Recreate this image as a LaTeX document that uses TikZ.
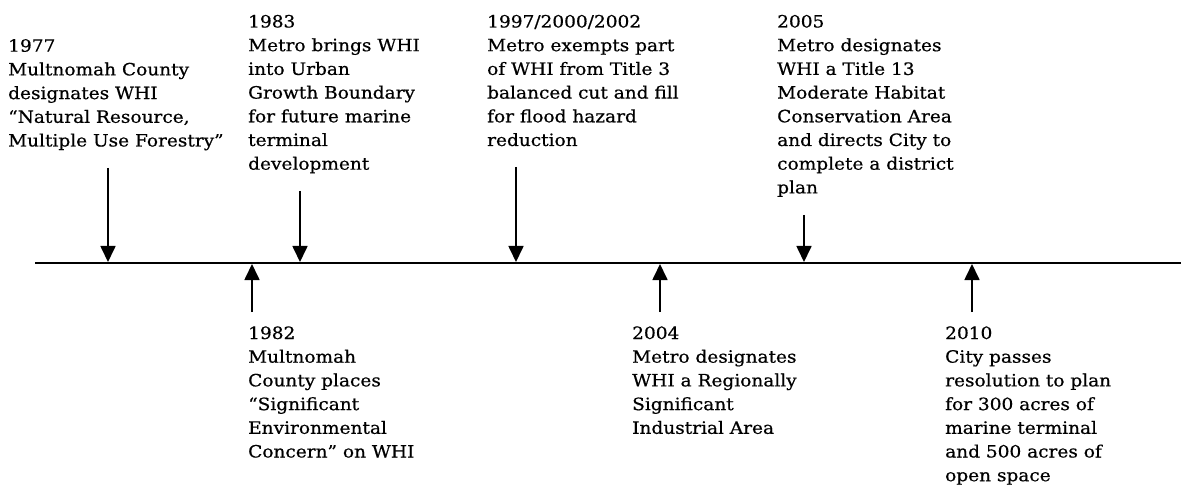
\documentclass[tikz,border=0pt]{standalone}
\usepackage{fontspec}
\setmainfont[FakeStretch=1.09,FakeBold=0.6]{DejaVu Serif}
\usetikzlibrary{arrows.meta}
\begin{document}
\begin{tikzpicture}[x=1pt,y=-1pt,
  evt/.style={anchor=base west,inner sep=0pt,font=\fontsize{17}{23.7}\selectfont},
  ptr/.style={line width=1.7pt,-{Triangle[width=15pt,length=16pt]}},
  axis/.style={line width=1.8pt}]
\useasboundingbox (0,0) rectangle (1181,489);
% axis
\coordinate (L) at (35,263);
\coordinate (R) at (1181,263);
\draw[axis] (L) -- (R);
% events above
\node[evt] (e1977) at (8,51.7) {\begin{tabular}[t]{@{}l@{}}1977\\Multnomah County\\designates WHI\\“Natural Resource,\\Multiple Use Forestry”\end{tabular}};
\node[evt] (e1983) at (248,27.5) {\begin{tabular}[t]{@{}l@{}}1983\\Metro brings WHI\\into Urban\\Growth Boundary\\for future marine\\terminal\\development\end{tabular}};
\node[evt] (e1997) at (487,27.5) {\begin{tabular}[t]{@{}l@{}}1997/2000/2002\\Metro exempts part\\of WHI from Title 3\\balanced cut and fill\\for flood hazard\\reduction\end{tabular}};
\node[evt] (e2005) at (777,27.5) {\begin{tabular}[t]{@{}l@{}}2005\\Metro designates\\WHI a Title 13\\Moderate Habitat\\Conservation Area\\and directs City to\\complete a district\\plan\end{tabular}};
% events below
\node[evt] (e1982) at (248,339) {\begin{tabular}[t]{@{}l@{}}1982\\Multnomah\\County places\\“Significant\\Environmental\\Concern” on WHI\end{tabular}};
\node[evt] (e2004) at (632,339) {\begin{tabular}[t]{@{}l@{}}2004\\Metro designates\\WHI a Regionally\\Significant\\Industrial Area\end{tabular}};
\node[evt] (e2010) at (945,339) {\begin{tabular}[t]{@{}l@{}}2010\\City passes\\resolution to plan\\for 300 acres of\\marine terminal\\and 500 acres of\\open space\end{tabular}};
% arrow ends
\coordinate (a1977s) at (108,168);  \coordinate (a1977t) at (108,262);
\coordinate (a1983s) at (300,191);  \coordinate (a1983t) at (300,262);
\coordinate (a1997s) at (516,167);  \coordinate (a1997t) at (516,262);
\coordinate (a2005s) at (804,215);  \coordinate (a2005t) at (804,262);
\coordinate (a1982s) at (252,312);  \coordinate (a1982t) at (252,264);
\coordinate (a2004s) at (660,312);  \coordinate (a2004t) at (660,264);
\coordinate (a2010s) at (972,312);  \coordinate (a2010t) at (972,264);
\foreach \y in {1977,1983,1997,2005,1982,2004,2010}
  \draw[ptr] (a\y s) -- (a\y t);
\end{tikzpicture}
\end{document}
